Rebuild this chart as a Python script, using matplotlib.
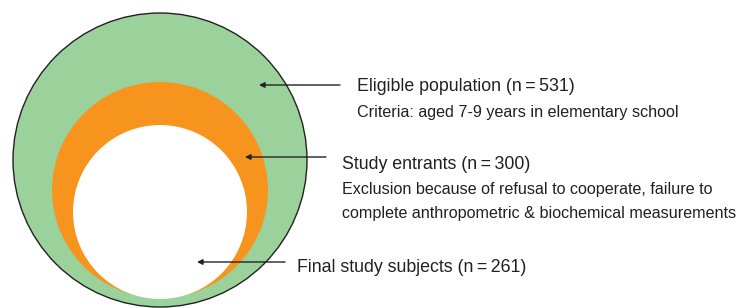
import matplotlib
matplotlib.use("Agg")
import matplotlib.pyplot as plt
from matplotlib.patches import Circle

groups = ["Eligible population", "Study entrants", "Final study subjects"]
counts = [531, 300, 261]
notes = ["Criteria: aged 7-9 years in elementary school",
         "Exclusion because of refusal to cooperate, failure to\ncomplete anthropometric & biochemical measurements",
         ""]

# geometry (pixels)
centers = [(160, 160), (160, 190), (160, 212)]
radii = [147, 108, 87]
colors = ["#9bd19b", "#f7941e", "#ffffff"]
edges = ["#222222", "none", "none"]
arrow_y = [85, 157, 262]
arrow_x0 = [340, 326, 285]
arrow_x1 = [259, 245, 197]
title_xy = [(357, 86.5), (342, 164.5), (297, 268)]
note_xy = [(357, 112), (342, 201.5), None]

plt.rcParams['font.family'] = ['Liberation Sans', 'DejaVu Sans']
fig = plt.figure(figsize=(7.4, 3.08), dpi=100)
ax = fig.add_axes([0, 0, 1, 1])
ax.set_xlim(0, 740)
ax.set_ylim(308, 0)
ax.set_aspect('equal')
ax.axis('off')

for c, r, col, ec in zip(centers, radii, colors, edges):
    ax.add_patch(Circle(c, r, facecolor=col, edgecolor=ec, linewidth=1.0))

for y, x0, x1 in zip(arrow_y, arrow_x0, arrow_x1):
    ax.annotate("", xy=(x1, y), xytext=(x0, y),
                arrowprops=dict(arrowstyle="-|>", color="#222222", lw=1.0,
                                mutation_scale=8, shrinkA=0, shrinkB=0))

for g, n, (x, y) in zip(groups, counts, title_xy):
    ax.text(x, y, f"{g} (n\u2009=\u2009{n})", fontsize=12.8, color="#231f20",
            ha="left", va="center")

for note, xy in zip(notes, note_xy):
    if xy is None:
        continue
    ax.text(xy[0], xy[1], note, fontsize=11.6, color="#231f20",
            ha="left", va="center", linespacing=1.8)

fig.savefig("out.png", dpi=100)
